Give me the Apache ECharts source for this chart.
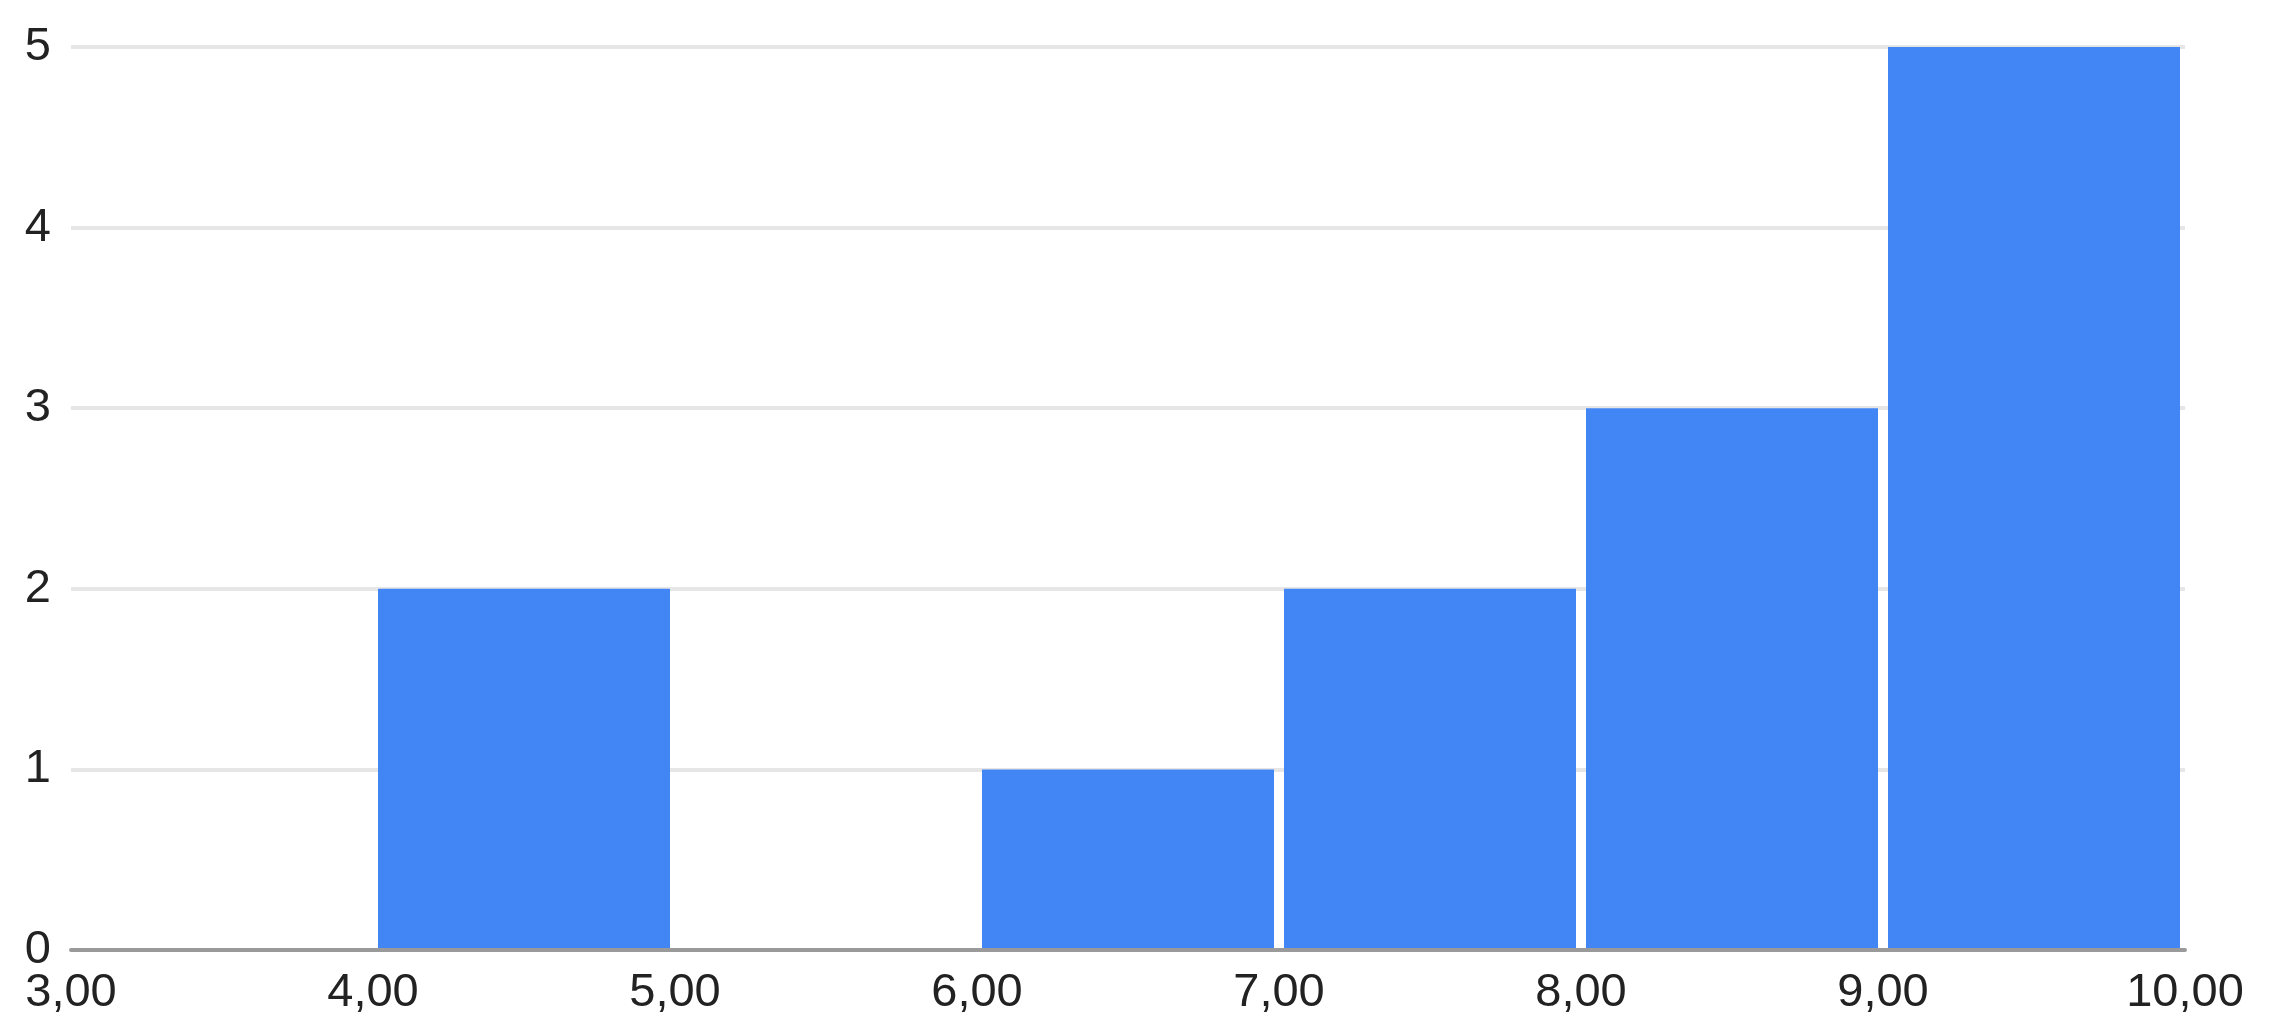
<!DOCTYPE html>
<html>
<head>
<meta charset="utf-8">
<style>
  html, body { margin: 0; padding: 0; background: #ffffff; }
  #chart { width: 2271px; height: 1034px; }
</style>
<script src="https://cdn.jsdelivr.net/npm/echarts@6/dist/echarts.min.js"></script>
</head>
<body>
<div id="chart"></div>
<script>
// Histogram bins and counts
var binStarts = [3, 4, 5, 6, 7, 8, 9];
var binEnds   = [4, 5, 6, 7, 8, 9, 10];
var counts    = [0, 2, 0, 1, 2, 3, 5];

// Axis ranges
var xMin = 3, xMax = 10, xStep = 1;
var yMin = 0, yMax = 5, yStep = 1;

var seriesData = binStarts.map(function (s, i) {
  return [s, binEnds[i], counts[i]];
});

var chart = echarts.init(document.getElementById('chart'), null, { renderer: 'canvas' });

var labelFont = '"Liberation Sans", Arial, sans-serif';

chart.setOption({
  backgroundColor: '#ffffff',
  animation: false,
  grid: { left: 71, right: 86, top: 47, bottom: 84, containLabel: false },
  xAxis: {
    type: 'value',
    min: xMin, max: xMax, interval: xStep,
    z: 10,
    axisLine: { show: true, onZero: true, lineStyle: { color: '#9a9a9a', width: 4 } },
    axisTick: { show: false },
    splitLine: { show: false },
    axisLabel: {
      color: '#222222', fontSize: 47, fontFamily: labelFont, margin: 20,
      formatter: function (v) { return v.toFixed(2).replace('.', ','); }
    }
  },
  yAxis: {
    type: 'value',
    min: yMin, max: yMax, interval: yStep,
    axisLine: { show: false },
    axisTick: { show: false },
    splitLine: { show: true, lineStyle: { color: '#e6e6e6', width: 4 } },
    axisLabel: {
      color: '#222222', fontSize: 47, fontFamily: labelFont, margin: 20
    }
  },
  series: [{
    type: 'custom',
    renderItem: function (params, api) {
      var h = api.value(2);
      if (!h) return null;
      var p0 = api.coord([api.value(0), h]);
      var p1 = api.coord([api.value(1), 0]);
      var inset = 5;
      return {
        type: 'rect',
        shape: {
          x: p0[0] + inset,
          y: p0[1],
          width: p1[0] - p0[0] - inset * 2,
          height: p1[1] - p0[1]
        },
        style: { fill: '#4285f4' }
      };
    },
    encode: { x: [0, 1], y: 2 },
    data: seriesData
  }]
});
</script>
</body>
</html>
